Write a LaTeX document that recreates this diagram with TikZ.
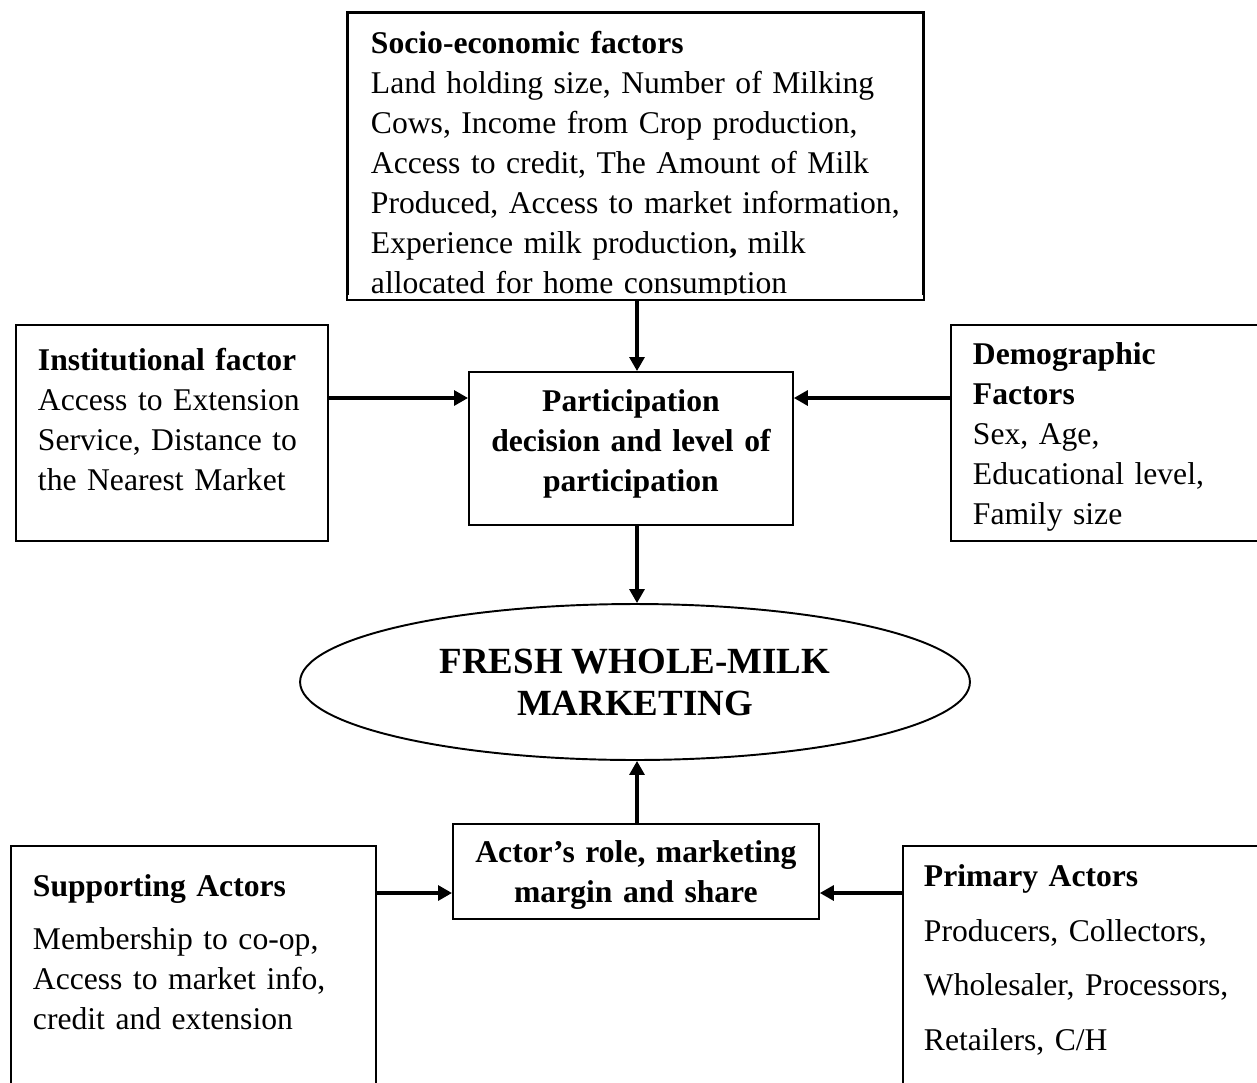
\documentclass[tikz,border=0pt]{standalone}
\usepackage{fontspec}
\setmainfont{Liberation Serif}
\usepackage{tikz}
\usetikzlibrary{shapes.geometric,arrows.meta,positioning,calc}

\begin{document}
\begin{tikzpicture}[x=0.02cm, y=-0.02cm,
  factorbox/.style={draw, line width=1.1pt, anchor=north west, align=left,
    inner ysep=0pt, inner xsep=0.44cm, font=\fontsize{18pt}{22.7pt}\selectfont},
  centrebox/.style={factorbox, align=center, inner xsep=0.2cm,
    font=\bfseries\fontsize{18pt}{22.7pt}\selectfont},
  link/.style={line width=1.8pt, -{Triangle[length=0.28cm, width=0.3cm]}}]

% Page
\clip (0,0) rectangle (1257,1082);

% Socio-economic factors (last line cut by the box)
\begin{scope}
\clip (300,0) rectangle (960,294);
\node[factorbox, inner xsep=0.46cm, text width=10.58cm, text height=0.82cm, text depth=4.9cm] (socio) at (347,12)
  {\textbf{Socio-economic factors}\\
   Land holding size, Number of Milking\\
   Cows, Income from Crop production,\\
   Access to credit, The Amount of Milk\\
   Produced, Access to market information,\\
   Experience milk production\textbf{,} milk\\
   allocated for home consumption};
\end{scope}
\draw[line width=1.1pt] (socio.north west) rectangle (socio.south east);

% Side factors
\node[factorbox, text width=5.36cm, text height=0.92cm, text depth=3.4cm] (inst) at (15,324)
  {\textbf{Institutional factor}\\
   Access to Extension\\
   Service, Distance to\\
   the Nearest Market};
\node[factorbox, text width=5.72cm, text height=0.8cm, text depth=3.52cm] (demo) at (950,324)
  {\textbf{Demographic}\\
   \textbf{Factors}\\
   Sex, Age,\\
   Educational level,\\
   Family size};

% Participation
\node[centrebox, text width=6.08cm, text height=0.8cm, text depth=2.26cm] (part) at (468,371)
  {Participation\\ decision and level of\\ participation};

% Marketing
\node[draw, line width=1.1pt, ellipse, minimum width=13.4cm, minimum height=3.12cm, inner sep=0pt,
  align=center, font=\bfseries\fontsize{21pt}{23.9pt}\selectfont] (ell) at (635,682)
  {FRESH WHOLE-MILK\\ MARKETING};

% Actors
\node[centrebox, text width=6.92cm, text height=0.78cm, text depth=1.12cm] (actor) at (452,823)
  {Actor’s role, marketing\\ margin and share};
\node[factorbox, text width=6.42cm, text height=1.02cm, text depth=4.08cm] (support) at (10,845)
  {\textbf{Supporting Actors}\\[0.26cm]
   Membership to co-op,\\
   Access to market info,\\
   credit and extension};
\node[factorbox, inner xsep=0.42cm, text width=6.76cm, text height=0.82cm, text depth=4.28cm,
  font=\fontsize{18pt}{31pt}\selectfont] (primary) at (902,845)
  {\textbf{Primary Actors}\\
   Producers, Collectors,\\
   Wholesaler, Processors,\\
   Retailers, C/H};

% Arrows
\coordinate (mid) at (637,0);
\coordinate (rowA) at (0,398);
\coordinate (rowB) at (0,893);
\draw[link] (socio.south -| mid) -- (part.north -| mid);
\draw[link] (inst.east |- rowA) -- (part.west |- rowA);
\draw[link] (demo.west |- rowA) -- (part.east |- rowA);
\draw[link] (part.south -| mid) -- (ell.north -| mid);
\draw[link] (actor.north -| mid) -- (ell.south -| mid);
\draw[link] (support.east |- rowB) -- (actor.west |- rowB);
\draw[link] (primary.west |- rowB) -- (actor.east |- rowB);

\end{tikzpicture}
\end{document}
